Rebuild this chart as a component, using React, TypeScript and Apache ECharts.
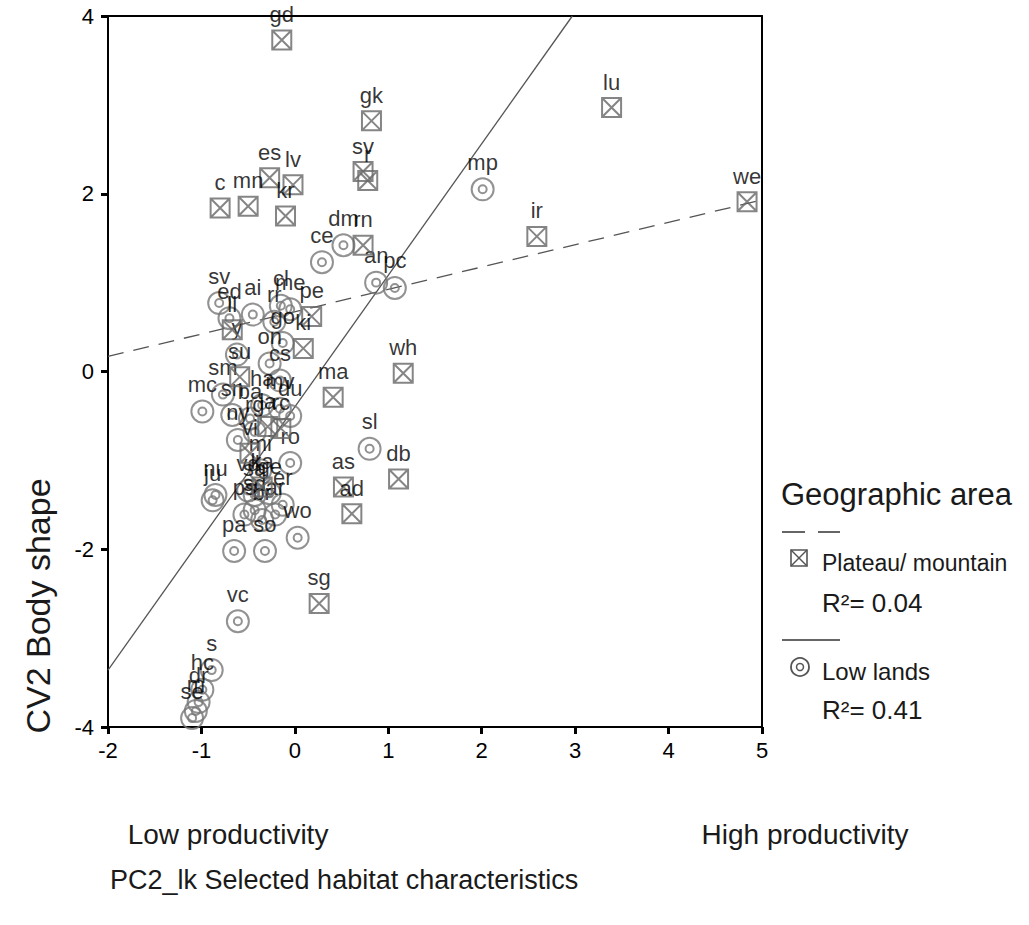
import React, { useEffect, useRef } from "react";
import * as echarts from "echarts";

// Plateau / mountain sites: [label, PC2 habitat, CV2 body shape]
const plateauPoints: [string, number, number][] = [
  ["gd", -0.14, 3.73], ["gk", 0.82, 2.82], ["lu", 3.39, 2.97], ["sv", 0.73, 2.25],
  ["r", 0.78, 2.15], ["we", 4.84, 1.91], ["ir", 2.59, 1.52], ["es", -0.27, 2.18],
  ["lv", -0.02, 2.1], ["kr", -0.1, 1.75], ["c", -0.8, 1.84], ["mn", -0.5, 1.86],
  ["rn", 0.73, 1.42], ["pe", 0.18, 0.62], ["ll", -0.67, 0.47], ["ki", 0.09, 0.26],
  ["su", -0.59, -0.06], ["wh", 1.16, -0.02], ["ma", 0.41, -0.29], ["db", 1.11, -1.21],
  ["as", 0.52, -1.3], ["ad", 0.61, -1.6], ["sg", 0.26, -2.61], ["la", -0.29, -0.62],
  ["rc", -0.15, -0.64], ["vi", -0.48, -0.92], ["ka", -0.35, -1.3],
];

// Low land sites
const lowlandPoints: [string, number, number][] = [
  ["mp", 2.01, 2.05], ["dm", 0.52, 1.42], ["ce", 0.29, 1.23], ["an", 0.87, 1.0],
  ["pc", 1.07, 0.94], ["sv", -0.81, 0.77], ["ai", -0.45, 0.64], ["ed", -0.7, 0.6],
  ["cl", -0.15, 0.74], ["me", -0.05, 0.7], ["rr", -0.22, 0.56], ["go", -0.13, 0.32],
  ["y", -0.62, 0.19], ["on", -0.27, 0.09], ["cs", -0.16, -0.1], ["mc", -0.99, -0.45],
  ["sm", -0.77, -0.26], ["sn", -0.67, -0.49], ["ba", -0.48, -0.53], ["ha", -0.35, -0.38],
  ["mv", -0.16, -0.42], ["du", -0.05, -0.5], ["rg", -0.43, -0.68], ["ny", -0.61, -0.77],
  ["ro", -0.05, -1.03], ["nu", -0.85, -1.39], ["ju", -0.88, -1.45], ["mi", -0.37, -1.11],
  ["vd", -0.5, -1.34], ["sa", -0.43, -1.39], ["ge", -0.27, -1.37], ["er", -0.13, -1.5],
  ["sd", -0.43, -1.56], ["ps", -0.54, -1.61], ["br", -0.35, -1.67], ["ar", -0.21, -1.61],
  ["sl", 0.8, -0.87], ["wo", 0.03, -1.87], ["pa", -0.65, -2.02], ["so", -0.32, -2.02],
  ["vc", -0.61, -2.81], ["s", -0.89, -3.36], ["hc", -0.99, -3.58], ["dr", -1.03, -3.72],
  ["m", -1.06, -3.82], ["se", -1.1, -3.9],
];

// Fit lines (end points)
const plateauFit: [number, number][] = [[-2, 0.17], [5, 1.93]];
const lowlandFit: [number, number][] = [[-2, -3.36], [2.97, 4]];

const xTicks = { min: -2, max: 5, interval: 1 };
const yTicks = { min: -4, max: 4, interval: 2 };

const FONT = '"Liberation Sans", Arial, Helvetica, sans-serif';
const SQUARE_X = "path://M1,1H19V19H1Z M1,1L19,19 M19,1L1,19";
const DOUBLE_CIRCLE =
  "path://M0,11A11,11,0,1,1,22,11A11,11,0,1,1,0,11Z M7,11A4,4,0,1,1,15,11A4,4,0,1,1,7,11Z";

const font = (size: number) => `normal ${size}px ${FONT}`;

export default function App() {
  const ref = useRef<HTMLDivElement>(null);
  useEffect(() => {
    if (!ref.current) return;
    const chart = echarts.init(ref.current, undefined, { renderer: "svg" });
    const labelCfg = {
      show: true,
      position: "top",
      distance: 4,
      formatter: "{b}",
      fontSize: 22,
      fontFamily: FONT,
      color: "#000",
    };
    const axisCommon = {
      type: "value",
      axisLine: { show: true, onZero: false, lineStyle: { color: "#000", width: 2 } },
      axisTick: { show: true, length: 7, lineStyle: { color: "#000", width: 3 } },
      axisLabel: { fontSize: 22, fontFamily: FONT, color: "#000" },
      splitLine: { show: false },
    };
    chart.setOption({
      animation: false,
      backgroundColor: "#fff",
      grid: { left: 108, top: 16, right: 267, bottom: 198, containLabel: false },
      xAxis: [
        { ...axisCommon, ...xTicks, position: "bottom", axisLabel: { ...axisCommon.axisLabel, margin: 12 } },
        {
          type: "value", ...xTicks, position: "top",
          axisLine: { show: true, onZero: false, lineStyle: { color: "#000", width: 2 } },
          axisTick: { show: false }, axisLabel: { show: false }, splitLine: { show: false },
        },
      ],
      yAxis: [
        { ...axisCommon, ...yTicks, position: "left", axisLabel: { ...axisCommon.axisLabel, margin: 14 } },
        {
          type: "value", ...yTicks, position: "right",
          axisLine: { show: true, onZero: false, lineStyle: { color: "#000", width: 2 } },
          axisTick: { show: false }, axisLabel: { show: false }, splitLine: { show: false },
        },
      ],
      series: [
        {
          type: "line",
          data: plateauFit,
          symbol: "none",
          lineStyle: { color: "#555", width: 1.3, type: [16, 10] },
          z: 1,
        },
        {
          type: "line",
          data: lowlandFit,
          symbol: "none",
          lineStyle: { color: "#555", width: 1.3 },
          z: 1,
        },
        {
          type: "scatter",
          name: "Plateau/ mountain",
          data: plateauPoints.map(([n, x, y]) => ({ name: n, value: [x, y] })),
          symbol: SQUARE_X,
          symbolSize: 19,
          itemStyle: { color: "rgba(0,0,0,0)", borderColor: "#666", borderWidth: 2 },
          label: labelCfg,
          z: 3,
        },
        {
          type: "scatter",
          name: "Low lands",
          data: lowlandPoints.map(([n, x, y]) => ({ name: n, value: [x, y] })),
          symbol: DOUBLE_CIRCLE,
          symbolSize: 22,
          itemStyle: { color: "rgba(0,0,0,0)", borderColor: "#777", borderWidth: 2 },
          label: labelCfg,
          z: 2,
        },
      ],
      graphic: [
        {
          type: "text", x: 38, y: 606, rotation: Math.PI / 2,
          style: { text: "CV2 Body shape", font: font(34), fill: "#1a1a1a", textAlign: "center", textVerticalAlign: "middle" },
        },
        {
          type: "text", x: 228, y: 834,
          style: { text: "Low productivity", font: font(28), fill: "#1a1a1a", textAlign: "center", textVerticalAlign: "middle" },
        },
        {
          type: "text", x: 805, y: 834,
          style: { text: "High productivity", font: font(28), fill: "#1a1a1a", textAlign: "center", textVerticalAlign: "middle" },
        },
        {
          type: "text", x: 110, y: 880,
          style: { text: "PC2_lk Selected habitat characteristics", font: font(27), fill: "#1a1a1a", textAlign: "left", textVerticalAlign: "middle" },
        },
        {
          type: "text", x: 781, y: 494,
          style: { text: "Geographic area", font: font(31), fill: "#1a1a1a", textAlign: "left", textVerticalAlign: "middle" },
        },
        {
          type: "line", shape: { x1: 782, y1: 532, x2: 840, y2: 532 },
          style: { stroke: "#333", lineWidth: 1.5, lineDash: [23, 13] },
        },
        {
          type: "rect", shape: { x: 791, y: 550, width: 16, height: 16 },
          style: { stroke: "#555", lineWidth: 1.6, fill: "none" },
        },
        { type: "line", shape: { x1: 791, y1: 550, x2: 807, y2: 566 }, style: { stroke: "#555", lineWidth: 1.4 } },
        { type: "line", shape: { x1: 807, y1: 550, x2: 791, y2: 566 }, style: { stroke: "#555", lineWidth: 1.4 } },
        {
          type: "text", x: 822, y: 563,
          style: { text: "Plateau/ mountain", font: font(23), fill: "#1a1a1a", textAlign: "left", textVerticalAlign: "middle" },
        },
        {
          type: "text", x: 822, y: 603,
          style: { text: "R²= 0.04", font: font(26), fill: "#1a1a1a", textAlign: "left", textVerticalAlign: "middle" },
        },
        {
          type: "line", shape: { x1: 782, y1: 640, x2: 840, y2: 640 },
          style: { stroke: "#333", lineWidth: 1.5 },
        },
        { type: "circle", shape: { cx: 800, cy: 667, r: 9 }, style: { stroke: "#555", lineWidth: 1.8, fill: "none" } },
        { type: "circle", shape: { cx: 800, cy: 667, r: 3.5 }, style: { stroke: "#555", lineWidth: 1.5, fill: "none" } },
        {
          type: "text", x: 822, y: 671,
          style: { text: "Low lands", font: font(24), fill: "#1a1a1a", textAlign: "left", textVerticalAlign: "middle" },
        },
        {
          type: "text", x: 822, y: 710,
          style: { text: "R²= 0.41", font: font(26), fill: "#1a1a1a", textAlign: "left", textVerticalAlign: "middle" },
        },
      ],
    });
    return () => chart.dispose();
  }, []);
  return (
    <div
      ref={ref}
      style={{ position: "fixed", left: 0, top: 0, width: 1029, height: 925, background: "#fff" }}
    />
  );
}
